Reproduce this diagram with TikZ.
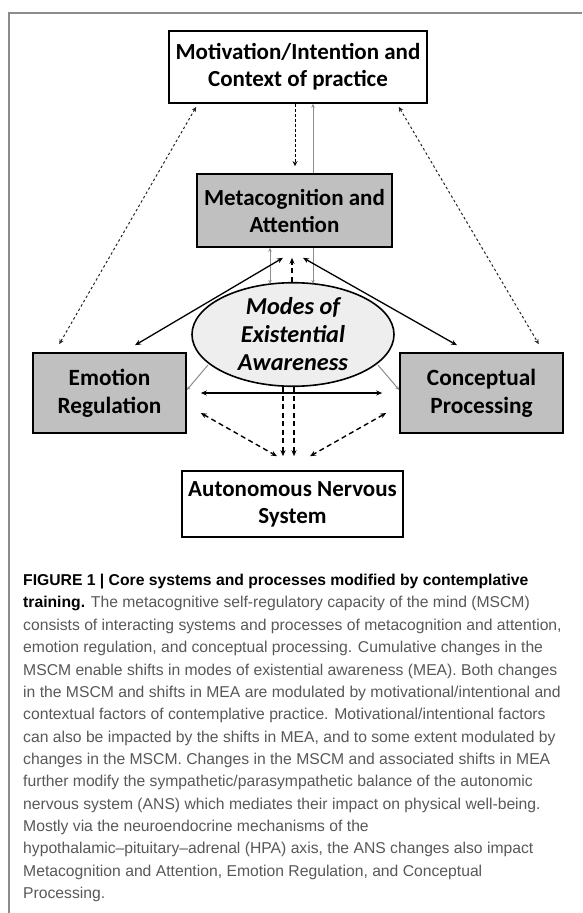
\documentclass[tikz,border=0pt]{standalone}
\usepackage{fontspec}
\usepackage{xcolor}
\usetikzlibrary{positioning, arrows.meta, shapes.geometric}
\newfontfamily\boxfont{Carlito}
\newfontfamily\capfont{Liberation Sans}
\definecolor{boxgray}{RGB}{192,192,192}
\definecolor{ellgray}{RGB}{238,238,238}
\definecolor{capgray}{RGB}{88,88,88}
\definecolor{linegray}{RGB}{140,140,140}

\begin{document}
\begin{tikzpicture}[x=1pt, y=-1pt,
		>={Stealth[length=6pt,width=5pt]},
		whitebox/.style={draw, line width=1.6pt, fill=white, align=center, inner sep=0pt,
			font=\boxfont\bfseries\fontsize{23}{27}\selectfont},
		graybox/.style={whitebox, fill=boxgray, font=\boxfont\bfseries\fontsize{23.3}{28}\selectfont},
		meaell/.style={ellipse, draw, line width=1.6pt, fill=ellgray, align=center, inner sep=0pt,
			font=\boxfont\bfseries\itshape\fontsize{24.3}{28}\selectfont},
		dotarr/.style={<->, line width=1pt, dash pattern=on 2.5pt off 2.5pt, black!85,
			>={Stealth[length=5pt,width=4.5pt,open]}},
		thinarr/.style={line width=1pt, linegray, >={Stealth[length=4pt,width=3.5pt]}},
		dasharr/.style={line width=1.4pt, dash pattern=on 5pt off 3.5pt},
		solidarr/.style={<->, line width=1.3pt}]
		\useasboundingbox (0,0) rectangle (582,913);
		\draw[linegray, line width=1.8pt] (582,13) -- (9,13) -- (9,913);
		\node[whitebox, minimum width=258pt, minimum height=72pt] (mot) at (298,67)
			{Motivation/Intention and\\Context of practice};
		\node[graybox, minimum width=195pt, minimum height=73pt, font=\boxfont\bfseries\fontsize{23}{27}\selectfont] (meta) at (294.5,210.5)
			{Metacognition and\\Attention};
		\node[graybox, minimum width=153pt, minimum height=80pt] (emo) at (109.5,393)
			{Emotion\\Regulation};
		\node[graybox, minimum width=163pt, minimum height=80pt] (con) at (481.5,393)
			{Conceptual\\Processing};
		\node[whitebox, minimum width=221pt, minimum height=66pt] (ans) at (292.5,504)
			{Autonomous Nervous\\System};
		\draw[dotarr] ([xshift=28pt,yshift=-3pt]mot.south west) -- ([xshift=27pt,yshift=8pt]emo.north west);
		\draw[dotarr] ([xshift=-29pt,yshift=-3pt]mot.south east) -- ([xshift=-25pt,yshift=8pt]con.north east);
		\draw[->, line width=1pt, dash pattern=on 3pt off 2pt, >={Stealth[length=5pt,width=5pt,open]}, shorten >=7pt]
			([xshift=-3pt]mot.south) -- ([xshift=0.5pt]meta.north);
		\draw[thinarr, ->] ([xshift=18.5pt]meta.north) -- ([xshift=15pt]mot.south);
		\node[meaell, minimum width=202pt, minimum height=99pt] (mea) at (293,334.5)
			{Modes of\\Existential\\Awareness};
		\draw[thinarr, <->] ([xshift=-24.5pt]meta.south) -- ([xshift=-23pt,yshift=-2pt]mea.north);
		\draw[thinarr, ->] ([xshift=18.5pt]meta.south) -- ([xshift=20pt,yshift=-2pt]mea.north);
		\draw[dasharr, ->, line width=1.2pt, shorten >=10pt] ([xshift=-1pt]mea.north) -- ([xshift=-2.5pt]meta.south);
		\draw[solidarr] ([xshift=-11.5pt,yshift=-10pt]meta.south) -- ([xshift=25.5pt,yshift=7pt]emo.north);
		\draw[solidarr] ([xshift=8.5pt,yshift=-10pt]meta.south) -- ([xshift=-24.5pt,yshift=7pt]con.north);
		\draw[thinarr, ->] ([xshift=-85pt,yshift=-30.5pt]mea.center) -- ([yshift=3pt]emo.east);
		\draw[thinarr, ->] ([xshift=85pt,yshift=-30.5pt]mea.center) -- ([yshift=3pt]con.west);
		\draw[solidarr, line width=1.2pt, shorten <=14pt, shorten >=17pt] (emo.east) -- (con.west);
		\draw[dasharr, ->, shorten >=14pt] ([xshift=-10pt]mea.south) -- ([xshift=-9.5pt]ans.north);
		\draw[dasharr, ->, shorten >=14pt] ([xshift=1pt]mea.south) -- ([xshift=1.5pt]ans.north);
		\draw[dasharr, <->] ([xshift=14pt,yshift=-20pt]emo.east) -- ([xshift=-15.5pt,yshift=14pt]ans.north);
		\draw[dasharr, <->] ([xshift=-13pt,yshift=-20pt]con.west) -- ([xshift=17.5pt,yshift=14pt]ans.north);
		\node[anchor=north west, align=left, inner sep=0pt, text=capgray,
			font=\capfont\fontsize{15.7}{22.36}\selectfont] (cap) at (23,574)
			{\textcolor{black}{\bfseries FIGURE 1 | Core systems and processes modified by contemplative}\\
			\textcolor{black}{\bfseries training.} The metacognitive self-regulatory capacity of the mind (MSCM)\\
			consists of interacting systems and processes of metacognition and attention,\\
			emotion regulation, and conceptual processing. Cumulative changes in the\\
			MSCM enable shifts in modes of existential awareness (MEA). Both changes\\
			in the MSCM and shifts in MEA are modulated by motivational/intentional and\\
			contextual factors of contemplative practice. Motivational/intentional factors\\
			can also be impacted by the shifts in MEA, and to some extent modulated by\\
			changes in the MSCM. Changes in the MSCM and associated shifts in MEA\\
			further modify the sympathetic/parasympathetic balance of the autonomic\\
			nervous system (ANS) which mediates their impact on physical well-being.\\
			Mostly via the neuroendocrine mechanisms of the\\
			hypothalamic\textendash pituitary\textendash adrenal (HPA) axis, the ANS changes also impact\\
			Metacognition and Attention, Emotion Regulation, and Conceptual\\
			Processing.};
\end{tikzpicture}
\end{document}
